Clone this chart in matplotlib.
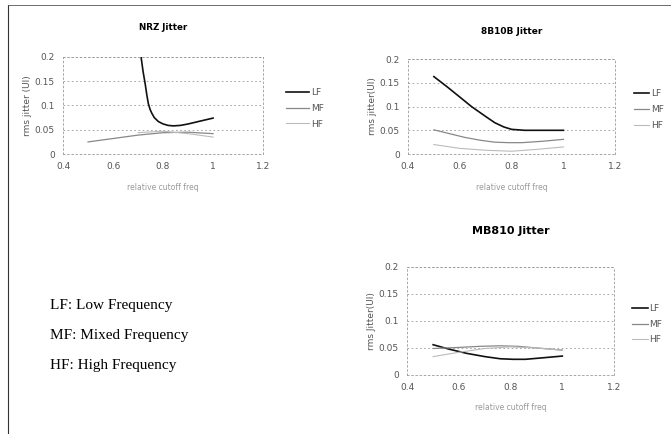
import numpy as np
import matplotlib.pyplot as plt
from matplotlib.lines import Line2D

# Datos
nrz_lf_x = [0.70, 0.712, 0.72, 0.728, 0.735, 0.741, 0.748, 0.755, 0.765, 0.781, 0.80, 0.82, 0.841, 0.87, 0.901, 0.95, 1.0]
nrz_lf_y = [0.26, 0.200, 0.170, 0.146, 0.122, 0.104, 0.092, 0.084, 0.075, 0.067, 0.062, 0.059, 0.058, 0.059, 0.062, 0.068, 0.074]
nrz_mf_x = [0.5, 0.6, 0.7, 0.8, 0.9, 1.0]
nrz_mf_y = [0.025, 0.032, 0.039, 0.044, 0.045, 0.042]
nrz_hf_x = [0.7, 0.8, 0.9, 1.0]
nrz_hf_y = [0.044, 0.047, 0.042, 0.035]

b10_lf_x = [0.5, 0.55, 0.6, 0.645, 0.7, 0.735, 0.77, 0.8, 0.85, 0.9, 1.0]
b10_lf_y = [0.163, 0.142, 0.120, 0.100, 0.079, 0.066, 0.057, 0.052, 0.050, 0.050, 0.050]
b10_mf_x = [0.5, 0.56, 0.62, 0.68, 0.735, 0.79, 0.84, 0.92, 1.0]
b10_mf_y = [0.051, 0.043, 0.035, 0.029, 0.025, 0.024, 0.024, 0.027, 0.031]
b10_hf_x = [0.5, 0.6, 0.7, 0.8, 0.9, 1.0]
b10_hf_y = [0.020, 0.012, 0.008, 0.006, 0.010, 0.015]

mb_lf_x = [0.5, 0.56, 0.63, 0.7, 0.76, 0.81, 0.857, 0.93, 1.0]
mb_lf_y = [0.056, 0.048, 0.040, 0.034, 0.030, 0.029, 0.029, 0.032, 0.035]
mb_mf_x = [0.5, 0.6, 0.68, 0.76, 0.83, 0.9, 1.0]
mb_mf_y = [0.049, 0.051, 0.053, 0.054, 0.053, 0.050, 0.046]
mb_hf_x = [0.5, 0.6, 0.7, 0.8, 0.9, 1.0]
mb_hf_y = [0.034, 0.042, 0.049, 0.052, 0.050, 0.046]

titulos = ["NRZ Jitter", "8B10B Jitter", "MB810 Jitter"]
tam_titulo = [6.3, 6.5, 8]
ylabels = ["rms jitter (UI)", "rms jitter(UI)", "rms Jitter(UI)"]
xlabel = "relative cutoff freq"
series = ["LF", "MF", "HF"]
colores = ["#111111", "#888888", "#bbbbbb"]
anchos = [1.2, 0.9, 0.8]

datos = [
    [(nrz_lf_x, nrz_lf_y), (nrz_mf_x, nrz_mf_y), (nrz_hf_x, nrz_hf_y)],
    [(b10_lf_x, b10_lf_y), (b10_mf_x, b10_mf_y), (b10_hf_x, b10_hf_y)],
    [(mb_lf_x, mb_lf_y), (mb_mf_x, mb_mf_y), (mb_hf_x, mb_hf_y)],
]

fig = plt.figure(figsize=(6.71, 4.34), dpi=100)
posiciones = [
    [0.094, 0.645, 0.298, 0.224],
    [0.608, 0.645, 0.309, 0.219],
    [0.607, 0.136, 0.308, 0.249],
]
titulo_y = [28, 31, 231]
leyenda_x = [1.095, 1.072, 1.072]
leyenda_hl = [2.6, 1.7, 1.7]

for i in range(3):
    ax = fig.add_axes(posiciones[i])
    for (x, y), c, lw in zip(datos[i], colores, anchos):
        ax.plot(x, y, color=c, lw=lw)
    ax.set_xlim(0.4, 1.2)
    ax.set_ylim(0, 0.2)
    ax.set_xticks([0.4, 0.6, 0.8, 1.0, 1.2])
    ax.set_xticklabels(["0.4", "0.6", "0.8", "1", "1.2"])
    ax.set_yticks([0, 0.05, 0.1, 0.15, 0.2])
    ax.set_yticklabels(["0", "0.05", "0.1", "0.15", "0.2"])
    ax.tick_params(length=0, labelsize=6.5, colors="#555555", pad=6)
    ax.grid(True, axis="y", color="#999999", ls=(0, (2, 3)), lw=0.6)
    for s in ax.spines.values():
        s.set_linestyle((0, (2, 3)))
        s.set_color("#999999")
        s.set_linewidth(0.6)
    x0, _, w, _ = posiciones[i]
    fig.text(x0 + w / 2, 1 - titulo_y[i] / 434, titulos[i], fontsize=tam_titulo[i],
             fontweight="bold", ha="center", va="center")
    ax.set_ylabel(ylabels[i], fontsize=6.5, color="#555555", labelpad=2)
    ax.set_xlabel(xlabel, fontsize=5.5, color="#999999", labelpad=8)
    handles = [Line2D([], [], color=c, lw=lw) for c, lw in zip(colores, anchos)]
    ax.legend(handles, series, loc="center left", bbox_to_anchor=(leyenda_x[i], 0.47),
              frameon=False, fontsize=6.5, handlelength=leyenda_hl[i], labelspacing=0.75,
              handletextpad=0.2, labelcolor="#555555", borderaxespad=0)

# texto explicativo
fig.text(0.075, 1 - 306 / 434, "LF: Low Frequency", family="Liberation Serif", fontsize=11, va="center")
fig.text(0.075, 1 - 336 / 434, "MF: Mixed Frequency", family="Liberation Serif", fontsize=11, va="center")
fig.text(0.075, 1 - 366 / 434, "HF: High Frequency", family="Liberation Serif", fontsize=11, va="center")

# marco del documento
fig.add_artist(Line2D([8 / 671, 8 / 671], [0, 1 - 5 / 434], color="#333333", lw=0.8))
fig.add_artist(Line2D([8 / 671, 1], [1 - 5 / 434, 1 - 5 / 434], color="#555555", lw=0.6))

fig.savefig("out.png", dpi=100)
